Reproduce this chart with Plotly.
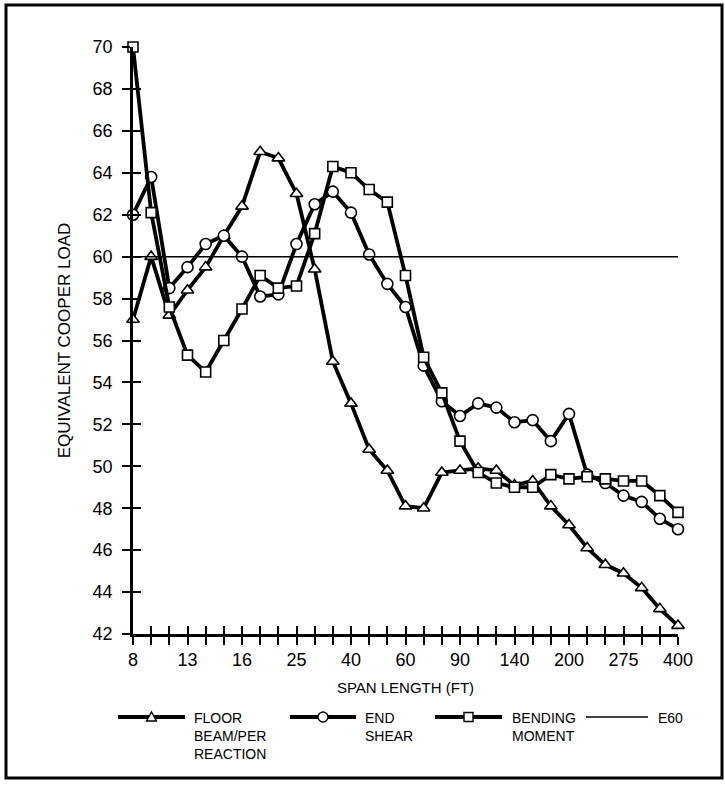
import plotly.graph_objects as go

# Span positions along the x axis (one per computed span), and the labelled spans
span_pos = list(range(31))
span_labels = ["8", "13", "16", "25", "40", "60", "90", "140", "200", "275", "400"]

floor_beam = [57.0, 60.0, 57.2, 58.4, 59.5, 61.0, 62.4, 65.0, 64.7, 63.0,
              59.4, 55.0, 53.0, 50.8, 49.8, 48.1, 48.0, 49.7, 49.8, 49.9,
              49.8, 49.1, 49.3, 48.1, 47.2, 46.1, 45.3, 44.9, 44.2, 43.2, 42.4]
end_shear = [62.0, 63.8, 58.5, 59.5, 60.6, 61.0, 60.0, 58.1, 58.2, 60.6,
             62.5, 63.1, 62.1, 60.1, 58.7, 57.6, 54.8, 53.1, 52.4, 53.0,
             52.8, 52.1, 52.2, 51.2, 52.5, 49.6, 49.2, 48.6, 48.3, 47.5, 47.0]
bending_moment = [70.0, 62.1, 57.6, 55.3, 54.5, 56.0, 57.5, 59.1, 58.5, 58.6,
                  61.1, 64.3, 64.0, 63.2, 62.6, 59.1, 55.2, 53.5, 51.2, 49.7,
                  49.2, 49.0, 49.0, 49.6, 49.4, 49.5, 49.4, 49.3, 49.3, 48.6, 47.8]
e60 = [60.0, 60.0]
e60_pos = [0, 30]

FONT = "Liberation Sans, Arial, sans-serif"
W, H = 725, 790
ML, MR, MT, MB = 133, 47, 47, 156
PW, PH = W - ML - MR, H - MT - MB


def px_x(px):
    """Horizontal pixel position -> paper coordinate."""
    return (px - ML) / PW


def px_y(py):
    """Vertical pixel position (from top) -> paper coordinate."""
    return (H - MB - py) / PH


tick_text = [span_labels[i // 3] if i % 3 == 0 else "" for i in span_pos]

fig = go.Figure()

series = [
    ("FLOOR<br>BEAM/PER<br>REACTION", floor_beam, "triangle-up", 11),
    ("END<br>SHEAR", end_shear, "circle", 11),
    ("BENDING<br>MOMENT", bending_moment, "square", 10),
]
for name, vals, sym, size in series:
    fig.add_trace(go.Scatter(
        x=span_pos, y=vals, name=name, mode="lines+markers",
        line=dict(color="black", width=3.8),
        marker=dict(symbol=sym, size=size, color="white",
                    line=dict(color="black", width=1.6)),
        cliponaxis=False, showlegend=False,
    ))

fig.add_trace(go.Scatter(
    x=e60_pos, y=e60, name="E60", mode="lines",
    line=dict(color="black", width=1.5),
    xaxis="x2", yaxis="y2", showlegend=False,
))

axis_common = dict(showgrid=False, zeroline=False, showline=True,
                   linecolor="black", linewidth=2.5,
                   tickcolor="black", tickwidth=2, ticklen=8)

# Key below the chart: long line samples with a marker in the middle
shapes = [dict(type="rect", xref="paper", yref="paper",
               x0=px_x(6), x1=px_x(722), y0=px_y(778), y1=px_y(5),
               line=dict(color="black", width=3))]
annotations = []
key = [
    # (line start, line end, text x, label, marker, line width)
    (118, 185, 192, "FLOOR<br>BEAM/PER<br>REACTION", "tri", 3.8),
    (290, 356, 363, "END<br>SHEAR", "circle", 3.8),
    (435, 502, 510, "BENDING<br>MOMENT", "square", 3.8),
    (586, 648, 656, "E60", None, 1.5),
]
KEY_Y = 717
for x0, x1, tx, label, mk, lw in key:
    shapes.append(dict(type="line", xref="paper", yref="paper",
                       x0=px_x(x0), x1=px_x(x1), y0=px_y(KEY_Y), y1=px_y(KEY_Y),
                       line=dict(color="black", width=lw)))
    cx = px_x((x0 + x1) / 2)
    cy = px_y(KEY_Y)
    marker_common = dict(xref="paper", yref="paper", xsizemode="pixel",
                         ysizemode="pixel", xanchor=cx, yanchor=cy,
                         fillcolor="white", line=dict(color="black", width=1.4))
    if mk == "circle":
        shapes.append(dict(type="circle", x0=-5, x1=5, y0=-5, y1=5, **marker_common))
    elif mk == "square":
        shapes.append(dict(type="rect", x0=-4.5, x1=4.5, y0=-4.5, y1=4.5, **marker_common))
    elif mk == "tri":
        shapes.append(dict(type="path", path="M-5,-4 L5,-4 L0,5 Z", **marker_common))
    annotations.append(dict(xref="paper", yref="paper", x=px_x(tx), y=px_y(KEY_Y - 9),
                            xanchor="left", yanchor="top", align="left",
                            showarrow=False, text=label,
                            font=dict(size=14, family=FONT, color="black")))

fig.update_layout(
    width=W, height=H,
    margin=dict(l=ML, r=MR, t=MT, b=MB),
    paper_bgcolor="white", plot_bgcolor="white",
    font=dict(family=FONT, color="black", size=16),
    showlegend=False,
    xaxis=dict(range=[0, 30], tickmode="array", tickvals=span_pos,
               ticktext=tick_text, ticks="outside",
               tickfont=dict(size=18), ticklabelstandoff=0,
               title=dict(text="SPAN LENGTH (FT)", font=dict(size=15), standoff=14),
               **axis_common),
    yaxis=dict(range=[42, 70], tickmode="linear", tick0=42, dtick=2,
               ticks="outside", tickfont=dict(size=18), ticklabelstandoff=6,
               title=dict(text="EQUIVALENT COOPER LOAD", font=dict(size=17), standoff=18),
               **axis_common),
    xaxis2=dict(range=[0, 30], overlaying="x", anchor="y2", side="bottom",
                tickmode="array", tickvals=span_pos, ticks="inside",
                showticklabels=False, **axis_common),
    yaxis2=dict(range=[42, 70], overlaying="y", anchor="x2", side="left",
                tickmode="linear", tick0=42, dtick=2, ticks="inside",
                showticklabels=False, **axis_common),
    shapes=shapes,
    annotations=annotations,
)

fig.write_html("out.html")
